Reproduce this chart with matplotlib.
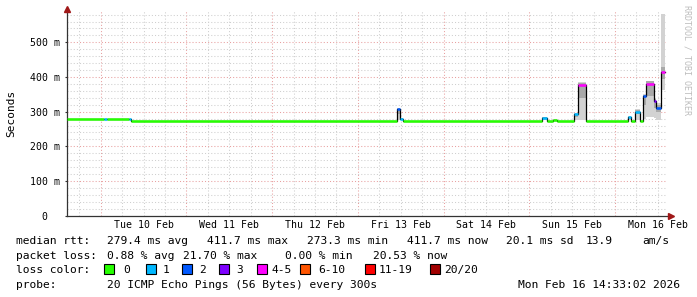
import matplotlib
matplotlib.use("Agg")
import matplotlib.pyplot as plt
import matplotlib.dates as mdates
from matplotlib.patches import Rectangle
from datetime import datetime, timedelta

# time window of the graph
t_start = datetime(2026, 2, 9, 14, 33, 2)
t_end = datetime(2026, 2, 16, 14, 33, 2)

# step edges, hours after t_start (last value = end of last step)
seg_hours = [0, 10.36, 11.2, 17.36, 17.92, 92.4, 93.24, 94.08, 133.0, 134.4,
             136.08, 137.2, 141.96, 143.08, 145.32, 157.08, 157.92, 159.04,
             160.44, 161.28, 162.12, 164.36, 164.92, 166.32, 167.44]
# median rtt per step (ms)
median_ms = [279.5, 279.5, 279.5, 279.5, 274, 308, 279, 274, 283, 274,
             276, 274, 293, 377, 274, 284, 274, 298, 274, 344,
             381, 332, 312, 414]
# lost pings per step (of 20)
loss_pings = [0, 1, 0, 1, 0, 2, 1, 0, 1, 0,
              0, 0, 1, 4, 0, 1, 0, 1, 0, 2,
              4, 3, 2, 4]
# smoke: outer and inner band (ms)
smoke_lo = [279.5, 279.5, 279.5, 279.5, 274, 276, 276, 274, 277, 274,
            274, 274, 275, 277, 274, 276, 274, 276, 274, 278,
            285, 282, 276, 363]
smoke_hi = [279.5, 279.5, 279.5, 279.5, 274, 311, 282, 274, 285, 274,
            278, 274, 296, 386, 274, 287, 274, 308, 274, 350,
            389, 340, 325, 582]
core_lo = [279.5, 279.5, 279.5, 279.5, 274, 292, 278, 274, 280, 274,
           275, 274, 285, 340, 274, 281, 274, 292, 274, 318,
           345, 312, 298, 395]
core_hi = [279.5, 279.5, 279.5, 279.5, 274, 308, 281, 274, 284, 274,
           277, 274, 294, 384, 274, 285, 274, 305, 274, 348,
           387, 337, 318, 430]

loss_labels = ["0", "1", "2", "3", "4-5", "6-10", "11-19", "20/20"]
loss_colors = ["#26ff00", "#00b8ff", "#0059ff", "#7e00ff", "#ff00ff",
               "#ff5500", "#ff0000", "#a10000"]
loss_upper = [0, 1, 2, 3, 5, 10, 19, 20]

stats_rtt = ["median rtt:", "279.4 ms avg", "411.7 ms max", "273.3 ms min",
             "411.7 ms now", "20.1 ms sd", "13.9", "am/s"]
stats_loss = ["packet loss:", "0.88 % avg", "21.70 % max", "0.00 % min",
              "20.53 % now"]
probe_text = "20 ICMP Echo Pings (56 Bytes) every 300s"
stamp_text = "Mon Feb 16 14:33:02 2026"

W, H = 697, 297
MONO = "DejaVu Sans Mono"
plt.rcParams["font.family"] = MONO


def fx(x):
    return x / W


def fy(y):
    return 1 - y / H


def color_for(n):
    for up, c in zip(loss_upper, loss_colors):
        if n <= up:
            return c
    return loss_colors[-1]


fig = plt.figure(figsize=(W / 100, H / 100), dpi=100)
ax_bottom, ax_top = 215.7, 11.1
ax = fig.add_axes([fx(67), fy(ax_bottom), 600 / W, (ax_bottom - ax_top) / H])
ax.set_xlim(mdates.date2num(t_start), mdates.date2num(t_end))
ax.set_ylim(0, 590)

# grid
minor_c, major_c = "#cfcfcf", "#e8a0a0"
t = datetime(2026, 2, 9, 18)
while t < t_end:
    ax.axvline(mdates.date2num(t), color=major_c if t.hour == 0 else minor_c,
               lw=0.75, ls=(0, (1, 2)), zorder=0)
    t += timedelta(hours=6)
for v in range(20, 590, 20):
    ax.axhline(v, color=major_c if v % 100 == 0 else minor_c,
               lw=0.75, ls=(0, (1, 2)), zorder=0)

edges = [mdates.date2num(t_start + timedelta(hours=h)) for h in seg_hours]

# smoke
for i in range(len(median_ms)):
    x0, x1 = edges[i], edges[i + 1]
    if smoke_hi[i] > smoke_lo[i]:
        ax.fill_between([x0, x1], smoke_lo[i], smoke_hi[i], color="#d2d2d2",
                        lw=0, zorder=2)
    if core_hi[i] > core_lo[i]:
        ax.fill_between([x0, x1], core_lo[i], core_hi[i], color="#a9a9a9",
                        lw=0, zorder=2)

# median step line
xs, ys = [], []
for i, m in enumerate(median_ms):
    xs += [edges[i], edges[i + 1]]
    ys += [m, m]
ax.plot(xs, ys, color="black", lw=0.9, zorder=3)
for i, m in enumerate(median_ms):
    ax.plot([edges[i], edges[i + 1]], [m, m], color=color_for(loss_pings[i]),
            lw=1.8, solid_capstyle="butt", zorder=4)

# axes look
for s in ["top", "right"]:
    ax.spines[s].set_visible(False)
for s in ["left", "bottom"]:
    ax.spines[s].set_color("#333333")
    ax.spines[s].set_linewidth(0.9)
ax.set_yticks(range(0, 501, 100))
ax.set_yticklabels(["0  "] + ["%d m" % v for v in range(100, 501, 100)])
noons = []
t = datetime(2026, 2, 10, 12)
while t < t_end:
    noons.append(mdates.date2num(t))
    t += timedelta(days=1)
ax.set_xticks(noons)
ax.xaxis.set_major_formatter(mdates.DateFormatter("%a %d %b"))
ax.tick_params(axis="x", length=0, pad=2.8, labelsize=7.1)
ax.tick_params(axis="y", length=1.5, pad=3.5, labelsize=7.1, color="#333333")
ax.set_ylabel("Seconds", fontsize=8)
ax.yaxis.set_label_coords(-(67 - 16) / 600, 0.5)

# arrows
ax.plot([1.006], [0], marker=">", color="#a01818", ms=4, clip_on=False,
        transform=ax.transAxes, zorder=5)
ax.plot([0], [1.01], marker="^", color="#a01818", ms=4, clip_on=False,
        transform=ax.transAxes, zorder=5)

# watermark
fig.text(fx(687), fy(5), "RRDTOOL / TOBI OETIKER", rotation=-90, ha="center",
         va="top", fontsize=6, color="#bdbdbd")

# legend rows (baselines in pixels)
fs = 8.1
rtt_x = [16, 107, 207, 307, 407, 506, 586, 642]
for x, s in zip(rtt_x, stats_rtt):
    fig.text(fx(x), fy(244), s, fontsize=fs, va="baseline")
loss_x = [16, 107, 183, 285, 373]
for x, s in zip(loss_x, stats_loss):
    fig.text(fx(x), fy(259), s, fontsize=fs, va="baseline")
fig.text(fx(16), fy(273), "loss color:", fontsize=fs, va="baseline")
box_x = [104, 146, 182, 219, 257, 300, 365, 430]
lab_x = [123, 163, 199, 236, 272, 318, 379, 444]
for bx, lx, lab, c in zip(box_x, lab_x, loss_labels, loss_colors):
    fig.patches.append(Rectangle((fx(bx), fy(274)), 10 / W, 10 / H,
                                 transform=fig.transFigure, facecolor=c,
                                 edgecolor="black", lw=0.8))
    fig.text(fx(lx), fy(273), lab, fontsize=fs, va="baseline")
fig.text(fx(16), fy(288), "probe:", fontsize=fs, va="baseline")
fig.text(fx(107), fy(288), probe_text, fontsize=fs, va="baseline")
fig.text(fx(680), fy(288), stamp_text, fontsize=fs, va="baseline", ha="right")

fig.savefig("out.png", dpi=100)
